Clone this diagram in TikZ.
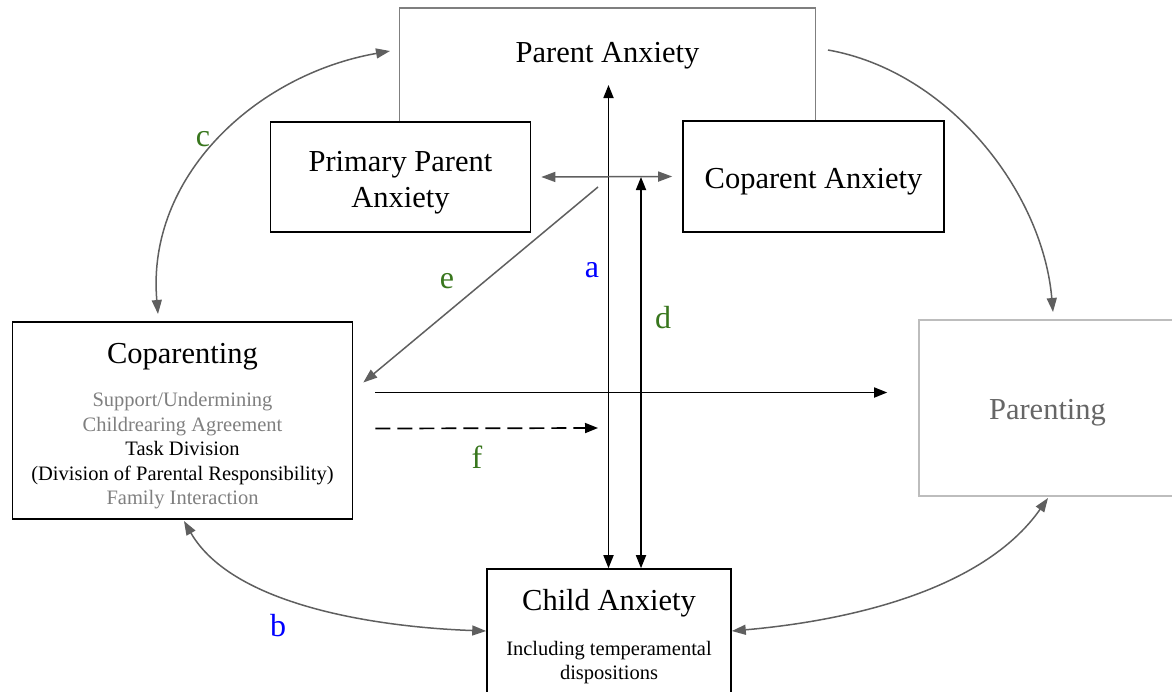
\documentclass[tikz,border=0pt]{standalone}
\usepackage{fontspec}
\setmainfont{Liberation Serif}
\usetikzlibrary{arrows.meta, positioning}
\definecolor{linegray}{HTML}{5F5F5F}
\definecolor{softgray}{HTML}{7F7F7F}
\definecolor{palegray}{HTML}{BDBDBD}
\definecolor{darkgreen}{HTML}{38761D}
\tikzstyle{block} = [rectangle, minimum width=130pt, minimum height=55pt, inner sep=0pt, draw=black, line width=0.8pt, fill=white]
\tikzstyle{heading} = [inner sep=0pt, align=center, font=\fontsize{15.25}{18}\selectfont]
\tikzstyle{detail} = [align=center, inner sep=0pt, font=\fontsize{10.25}{12.25}\selectfont]
\tikzstyle{letter} = [inner sep=0pt, font=\fontsize{16}{18}\selectfont]
\tikzstyle{arrow} = [line width=0.85pt, >={Triangle[length=6.5pt, width=5pt]}]
\tikzstyle{grayarrow} = [arrow, line width=0.75pt, draw=linegray, >={Triangle[length=7pt, width=5pt]}, fill=none]

\begin{document}
\begin{tikzpicture}[x=0.5pt, y=0.5pt]
\useasboundingbox (0,0) rectangle (1172,-691);

% Nodes
\node (parent) [inner sep=0pt, minimum width=207.5pt, minimum height=57pt, anchor=north] at (607.5,-8) {};
\draw [draw=softgray, line width=0.75pt] (parent.south west) |- (parent.north east) -- (parent.south east);
\node (parenttext) [heading] at (607.5,-56) {Parent Anxiety};

\node (primary) [block] at (400.5,-177) {};
\node (primarytext) [heading] at (400.5,-182.5) {Primary Parent\\Anxiety};
\node (coparent) [block, minimum width=130.5pt, minimum height=55.5pt] at (813.5,-176.5) {};
\node (coparenttext) [heading] at (813.5,-181.5) {Coparent Anxiety};

\node (coparenting) [block, minimum width=170pt, minimum height=98.5pt] at (182.5,-420.5) {};
\node (coparentingtitle) [heading] at (182.5,-357) {Coparenting};
\node (coparentingitems) [detail] at (182.5,-451) {\textcolor{softgray}{Support/Undermining}\\\textcolor{softgray}{Childrearing Agreement}\\Task Division\\(Division of Parental Responsibility)\\\textcolor{softgray}{Family Interaction}};

\node (parenting) [block, draw=palegray, minimum width=128.5pt, minimum height=88pt] at (1047.5,-408) {};
\node (parentingtext) [heading, text=black!60] at (1047.5,-413) {Parenting};

\node (child) [block, minimum width=122pt, minimum height=71.5pt] at (609,-640.5) {};
\node (childtitle) [heading] at (609,-603) {Child Anxiety};
\node (childitems) [detail] at (609,-662.5) {Including temperamental\\dispositions};

\coordinate (atop) at (608.5,-85);
\coordinate (dtop) at (641,-177);
\coordinate (estart) at (598,-187);
\coordinate (fend) at (598,-428);
\coordinate (ctop) at (390,-51);
\coordinate (cbottom) at (158,-314);
\coordinate (pastart) at (828,-50);
\coordinate (paend) at (1053,-312);
\coordinate (bstart) at (184,-521);
\coordinate (cpend) at (1048,-498);

% Arrows
\draw [arrow, <->] (atop) -- (atop |- child.north);
\draw [arrow, <->] (dtop) -- (dtop |- child.north);
\draw [grayarrow, <->] ([xshift=5pt]primary.east) -- ([xshift=-5pt]coparent.west);
\draw [grayarrow, ->] (estart) -- ([shift={(5pt,19pt)}]coparenting.east);
\draw [arrow, ->] ([shift={(11pt,14pt)}]coparenting.east) -- ([shift={(-15.5pt,14pt)}]coparenting.east -| parenting.west);
\draw [arrow, ->, dash pattern=on 7.5pt off 3.5pt] ([shift={(11pt,-4pt)}]coparenting.east) -- (fend);

\draw [grayarrow, <->] (cbottom) to[out=95, in=190] (ctop);
\draw [grayarrow, ->] (pastart) to[out=-10, in=95, looseness=0.9] (paend);
\draw [grayarrow, <->] (bstart) to[out=-60, in=178, looseness=0.8] ([yshift=4.75pt]child.west);
\draw [grayarrow, <->] ([yshift=4.75pt]child.east) to[out=5, in=-125, looseness=0.85] (cpend);

% Labels
\node (la) [letter, text=blue] at (592,-270) {a};
\node (lb) [letter, text=blue] at (278,-626) {b};
\node (lc) [letter, text=darkgreen] at (203,-139) {c};
\node (ld) [letter, text=darkgreen] at (663,-318) {d};
\node (le) [letter, text=darkgreen] at (447,-281) {e};
\node (lf) [letter, text=darkgreen] at (477,-457) {f};

\end{tikzpicture}
\end{document}
